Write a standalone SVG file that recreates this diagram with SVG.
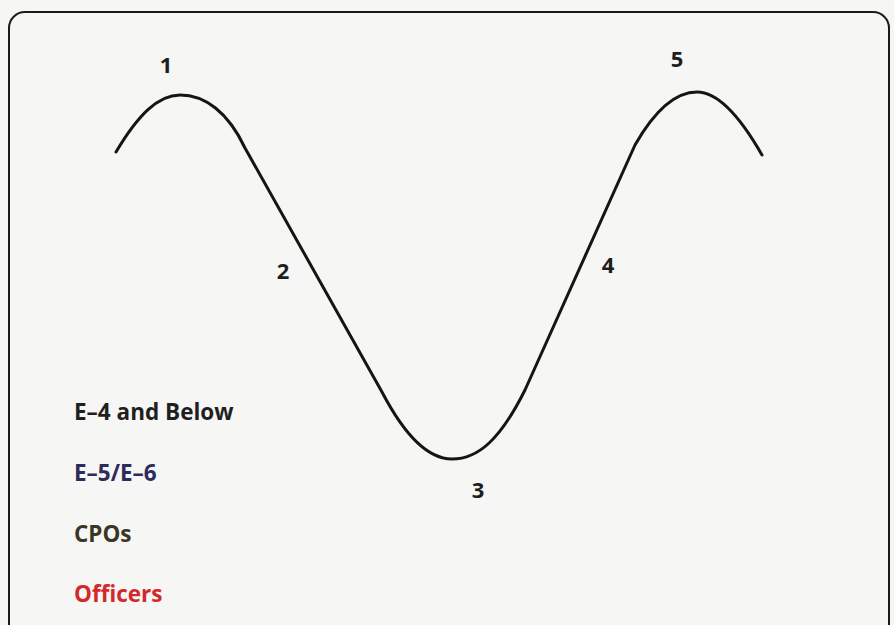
<svg xmlns="http://www.w3.org/2000/svg" width="894" height="625" viewBox="0 0 894 625">
<style>
.num{font-family:"Open Sans","Noto Sans",sans-serif;font-weight:700;font-size:22px;fill:#1e1e1e;text-anchor:middle}
.leg{font-family:"Open Sans","Noto Sans",sans-serif;font-weight:700;font-size:22.5px}
</style>
<rect x="0" y="0" width="894" height="625" fill="#f6f6f4"/>
<rect x="9" y="12" width="880" height="628" rx="16" ry="16" fill="none" stroke="#1a1a1a" stroke-width="2"/>
<g id="connectors">
<path d="M116,152 C138,115 158,95 180,95 C205,95 228,112 245,148 L382,392 C406,438 430,459 452,459 C478,459 500,440 525,390 L635,145 C655,110 675,92 697,92 C720,92 742,120 762,155" fill="none" stroke="#151515" stroke-width="3" stroke-linecap="round" stroke-linejoin="round"/>
</g>
<g id="n1"><text class="num" x="166" y="73">1</text></g>
<g id="n2"><text class="num" x="283" y="279">2</text></g>
<g id="n3"><text class="num" x="478" y="498">3</text></g>
<g id="n4"><text class="num" x="608" y="273">4</text></g>
<g id="n5"><text class="num" x="677" y="67">5</text></g>
<g id="legend">
<text class="leg" x="74" y="420" fill="#1f1f1f">E–4 and Below</text>
<text class="leg" x="74" y="481" fill="#2e2b5c">E–5/E–6</text>
<text class="leg" x="74" y="542" fill="#3a3624">CPOs</text>
<text class="leg" x="74" y="602" fill="#d3282c">Officers</text>
</g>
</svg>
